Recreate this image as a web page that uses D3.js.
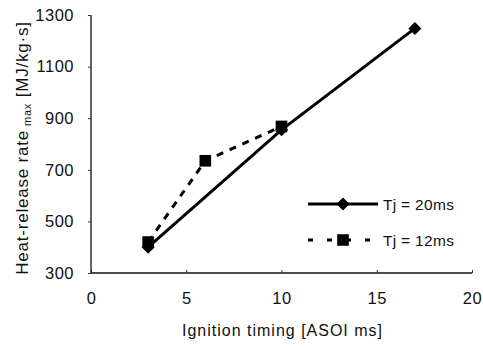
<!DOCTYPE html>
<html>
<head>
<meta charset="utf-8">
<script src="https://cdn.jsdelivr.net/npm/d3@7"></script>
<style>
  body { margin: 0; background: #fff; }
  text { font-family: "Liberation Sans", Arial, sans-serif; fill: #111; }
</style>
</head>
<body>
<div id="chart"></div>
<script>
// data
const xTicks = [0, 5, 10, 15, 20];
const yTicks = [300, 500, 700, 900, 1100, 1300];
const tj20_x = [3, 10, 17];
const tj20_y = [400, 855, 1248];
const tj12_x = [3, 6, 10];
const tj12_y = [420, 735, 868];
const seriesNames = ['Tj = 20ms', 'Tj = 12ms'];

const chart_width = 483;
const chart_height = 347;
const pad_left = 91, pad_right = 472, pad_top = 15, pad_bottom = 273;

let svg = d3.select('#chart')
            .append('svg')
            .attr('width', chart_width)
            .attr('height', chart_height);

let x_scale = d3.scaleLinear().domain([0, 20]).range([pad_left, pad_right]);
let y_scale = d3.scaleLinear().domain([300, 1300]).range([pad_bottom, pad_top]);

// axes
let x_axis = d3.axisBottom(x_scale).tickValues(xTicks).tickFormat(d3.format('d'))
  .tickSize(-3).tickPadding(19);
let gx = svg.append('g')
  .attr('transform', 'translate(0,' + pad_bottom + ')')
  .call(x_axis);

let y_axis = d3.axisLeft(y_scale).tickValues(yTicks).tickFormat(d3.format('d'))
  .tickSize(3).tickPadding(14);
let gy = svg.append('g')
  .attr('transform', 'translate(' + pad_left + ',0)')
  .call(y_axis);

[gx, gy].forEach(g => {
  g.select('.domain').attr('stroke', '#111').attr('stroke-width', 1.3);
  g.selectAll('.tick line').attr('stroke', '#333');
  g.selectAll('.tick text').style('font-size', '16.5px').style('letter-spacing', '0.5px')
    .attr('fill', '#111');
});
gx.select('.domain').attr('d', 'M' + pad_left + ',0H' + pad_right);
gy.select('.domain').attr('d', 'M0,' + pad_bottom + 'V' + pad_top);

// axis titles
svg.append('text')
  .attr('x', (pad_left + pad_right) / 2 + 1)
  .attr('y', 336)
  .attr('text-anchor', 'middle')
  .style('font-size', '16px')
  .style('letter-spacing', '1px')
  .text('Ignition  timing [ASOI ms]');

let yt = svg.append('text')
  .attr('transform', 'translate(28,' + 148 + ') rotate(-90)')
  .attr('text-anchor', 'middle')
  .style('font-size', '17px')
  .style('letter-spacing', '0.8px');
yt.append('tspan').text('Heat-release rate');
yt.append('tspan').attr('dy', 3).style('font-size', '11px').text(' max');
yt.append('tspan').attr('dy', -3).text('  [MJ/kg·s]');

// lines
let line = d3.line().x(d => x_scale(d[0])).y(d => y_scale(d[1]));
let d20 = tj20_x.map((v, i) => [v, tj20_y[i]]);
let d12 = tj12_x.map((v, i) => [v, tj12_y[i]]);

svg.append('path').datum(d20).attr('d', line)
  .attr('fill', 'none').attr('stroke', '#000').attr('stroke-width', 3);
svg.append('path').datum(d12).attr('d', line)
  .attr('fill', 'none').attr('stroke', '#000').attr('stroke-width', 3)
  .attr('stroke-dasharray', '7,7');

let diamond = d3.symbol().type(d3.symbolSquare).size(85);
let square = d3.symbol().type(d3.symbolSquare).size(135);

svg.selectAll('.m20').data(d20).enter().append('path')
  .attr('transform', d => 'translate(' + x_scale(d[0]) + ',' + y_scale(d[1]) + ') rotate(45)')
  .attr('d', diamond).attr('fill', '#000');
svg.selectAll('.m12').data(d12).enter().append('path')
  .attr('transform', d => 'translate(' + x_scale(d[0]) + ',' + y_scale(d[1]) + ')')
  .attr('d', square).attr('fill', '#000');

// legend
let leg = [{y: 204, dash: null, sym: diamond, rot: 45}, {y: 240, dash: '5,14', sym: square, rot: 0}];
leg.forEach((l, i) => {
  svg.append('line').attr('x1', 308).attr('x2', 378).attr('y1', l.y).attr('y2', l.y)
    .attr('stroke', '#000').attr('stroke-width', 3)
    .attr('stroke-dasharray', l.dash);
  svg.append('path').attr('transform', 'translate(343,' + l.y + ') rotate(' + l.rot + ')')
    .attr('d', l.sym).attr('fill', '#000');
  svg.append('text').attr('x', 383).attr('y', l.y + 6)
    .style('font-size', '15.5px').style('letter-spacing', '0.3px').text(seriesNames[i]);
});
</script>
</body>
</html>
